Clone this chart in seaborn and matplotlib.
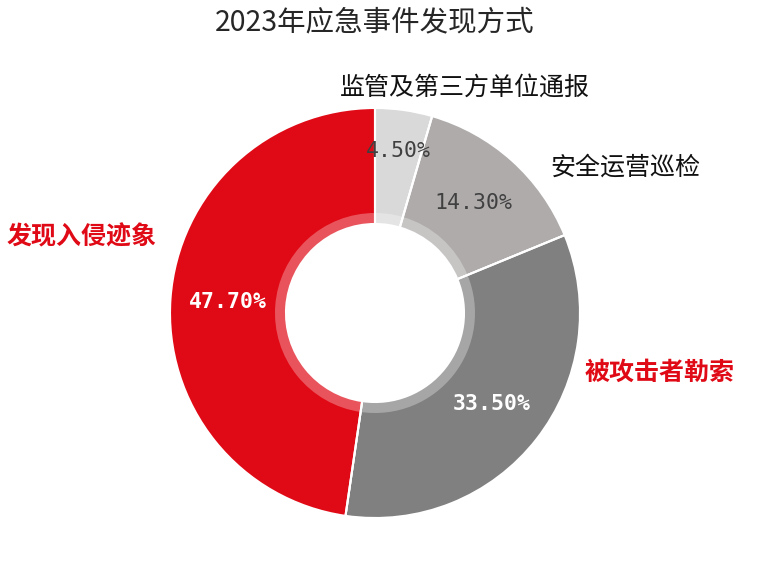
import numpy as np
import matplotlib
matplotlib.use("Agg")
import matplotlib.pyplot as plt
import seaborn as sns
from matplotlib.patches import Wedge

sns.set_theme(style="white")
plt.rcParams['font.family'] = ['Noto Sans CJK SC', 'DejaVu Sans']

title = "2023年应急事件发现方式"
categories = ["监管及第三方单位通报", "安全运营巡检", "被攻击者勒索", "发现入侵迹象"]
values = [4.5, 14.3, 33.5, 47.7]
pct_labels = ["4.50%", "14.30%", "33.50%", "47.70%"]
colors = ["#d9d9d9", "#afabab", "#808080", "#e00a16"]
pct_colors = ["#404040", "#404040", "white", "white"]
pct_weights = ["normal", "normal", "bold", "bold"]
pct_dist = [0.80, 0.72, 0.72, 0.72]
label_colors = ["#111111", "#111111", "#e00a16", "#e00a16"]
label_weights = ["normal", "normal", "bold", "bold"]
# label anchor positions (axes data units, pie radius = 1)
label_pos = [(0.44, 1.10), (1.22, 0.71), (1.39, -0.29), (-1.43, 0.37)]

W, H = 761, 570
fig = plt.figure(figsize=(W / 100, H / 100), dpi=100)
cx, cy, R = 375, 313, 205
ax = fig.add_axes([(cx - R) / W, (H - cy - R) / H, 2 * R / W, 2 * R / H])

wedges, _ = ax.pie(values, colors=colors, startangle=90, counterclock=False,
                   radius=1.0, wedgeprops=dict(width=1 - 89 / 205, edgecolor="white", linewidth=1.5))
ax.set_xlim(-1, 1)
ax.set_ylim(-1, 1)
ax.set_aspect("equal")
ax.axis("off")

# translucent inner ring over each slice
inner_r, ring_r = 89 / 205, 100 / 205
for w in wedges:
    ax.add_patch(Wedge((0, 0), ring_r, w.theta1, w.theta2, width=ring_r - inner_r,
                       facecolor="white", alpha=0.3, edgecolor="none"))
for w in wedges:
    t = np.deg2rad(w.theta1)
    ax.plot([inner_r * np.cos(t), np.cos(t)], [inner_r * np.sin(t), np.sin(t)],
            color="white", lw=1.5, solid_capstyle="butt")

cum = np.cumsum([0] + values[:-1])
for i, v in enumerate(values):
    mid = np.deg2rad(90 - (cum[i] + v / 2) * 3.6)
    ax.text(pct_dist[i] * np.cos(mid), pct_dist[i] * np.sin(mid), pct_labels[i],
            ha="center", va="center", fontsize=15.5, color=pct_colors[i],
            fontweight=pct_weights[i], family=["DejaVu Sans Mono"], clip_on=False)
    ax.text(label_pos[i][0], label_pos[i][1], categories[i], ha="center", va="center",
            fontsize=18, color=label_colors[i], fontweight=label_weights[i], clip_on=False)

fig.text(375 / W, 1 - 22 / H, title, ha="center", va="center", fontsize=20.5, color="#262626")

fig.savefig("out.png", dpi=100, facecolor="white")
